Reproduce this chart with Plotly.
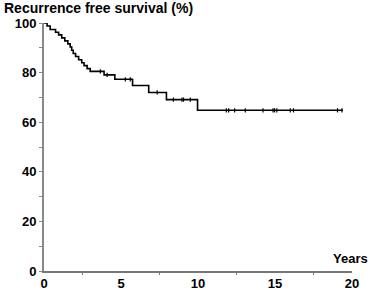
import plotly.graph_objects as go

# Kaplan-Meier step data (years, % recurrence free)
event_times = [0, 0.2, 0.4, 0.75, 0.95, 1.15, 1.35, 1.55, 1.7, 1.8, 1.9, 2.05, 2.25, 2.45, 2.6, 2.8, 3.0,
               3.9, 4.6, 5.75, 6.8, 7.95, 9.97, 19.4]
survival = [100, 98.8, 97.4, 96.3, 95.2, 94.0, 92.8, 91.6, 90.3, 89.0, 87.7, 86.5, 85.2, 84.0, 82.8, 81.6, 80.5,
            79.1, 77.3, 74.8, 72.0, 69.1, 64.8, 64.8]

censor_times = [3.66, 4.1, 5.28, 5.6, 7.35, 8.4, 8.96, 9.06, 9.5,
                11.84, 11.99, 12.38, 13.07, 14.22, 14.87, 14.97, 15.12, 15.99, 16.2, 19.06, 19.35]
censor_surv = [80.5, 79.1, 77.3, 77.3, 72.0, 69.1, 69.1, 69.1, 69.1,
               64.8, 64.8, 64.8, 64.8, 64.8, 64.8, 64.8, 64.8, 64.8, 64.8, 64.8, 64.8]

x_ticks = [0, 5, 10, 15, 20]
y_ticks = [0, 20, 40, 60, 80, 100]

font = "Liberation Sans, Arial, Helvetica, sans-serif"

fig = go.Figure()
fig.add_trace(go.Scatter(x=event_times, y=survival, mode="lines", line=dict(color="black", width=1.6, shape="hv"),
                         cliponaxis=False, showlegend=False, hoverinfo="skip"))
fig.add_trace(go.Scatter(x=censor_times, y=censor_surv, mode="markers",
                         marker=dict(symbol="line-ns", size=3, line=dict(color="black", width=1.2)),
                         cliponaxis=False, showlegend=False, hoverinfo="skip"))

fig.update_layout(
    width=370, height=290,
    margin=dict(l=44, r=18, t=23, b=19),
    paper_bgcolor="white", plot_bgcolor="white",
    font=dict(family=font, size=13, color="black"),
    xaxis=dict(range=[0, 20], tickvals=x_ticks, ticktext=["<b>%d</b>" % v for v in x_ticks], automargin=False,
               showgrid=False, zeroline=False, showline=True, linecolor="#777777", linewidth=1.5,
               ticks="outside", ticklen=0, tickcolor="#777777", tickwidth=1,
               minor=dict(tickvals=[2.5, 7.5, 12.5, 17.5], ticks="outside", ticklen=2, tickcolor="#777777"),
               tickfont=dict(family=font, size=13, color="black", weight="bold"), fixedrange=True),
    yaxis=dict(range=[0, 100], tickvals=y_ticks, ticktext=["<b>%d</b>" % v for v in y_ticks], automargin=False,
               showgrid=False, zeroline=False, showline=True, linecolor="#888888", linewidth=2,
               ticks="outside", ticklen=3, tickcolor="#888888", tickwidth=1,
               minor=dict(tickvals=[10, 30, 50, 70, 90], ticks="outside", ticklen=3, tickcolor="#888888"),
               tickfont=dict(family=font, size=13, color="black", weight="bold"), fixedrange=True),
    annotations=[
        dict(text="<b>Recurrence free survival (%)</b>", xref="paper", yref="paper", x=-42/308, y=1, yshift=15,
             xanchor="left", yanchor="middle", showarrow=False, font=dict(family=font, size=14, color="black")),
        dict(text="<b>Years</b>", xref="x", yref="paper", x=20, y=0, yshift=13, xshift=-2,
             xanchor="center", yanchor="middle", showarrow=False, font=dict(family=font, size=13, color="black")),
    ],
)

fig.write_html("out.html", config={"displayModeBar": False},
               post_script="document.body.style.margin='0';document.body.style.overflow='hidden';")
